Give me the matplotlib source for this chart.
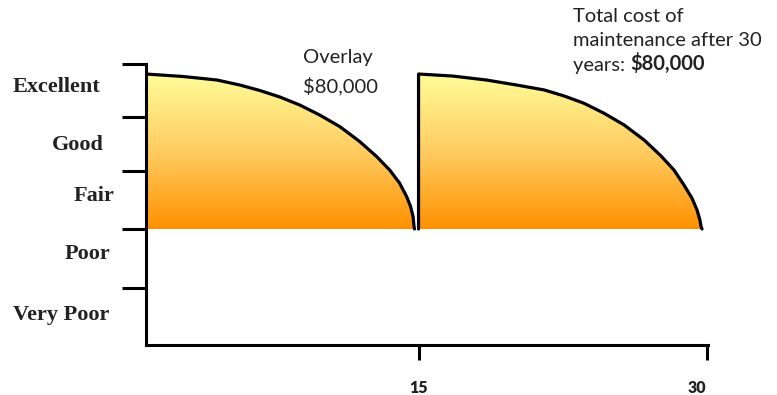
import numpy as np
import matplotlib
matplotlib.use("Agg")
import matplotlib.pyplot as plt
from matplotlib.colors import LinearSegmentedColormap
from matplotlib.transforms import ScaledTranslation

# condition levels (bottom -> top) and the tick boundaries between them
levels = ["Very Poor", "Poor", "Fair", "Good", "Excellent"]
level_centers = [0.53, 1.60, 2.61, 3.51, 4.53]
level_bounds = [1.0, 2.03, 3.05, 4.0, 4.93]

# first deterioration curve (years 0-15)
curve1_x = [0.83, 2.75, 4.52, 5.71, 6.75, 7.79, 8.82, 9.86, 10.90, 11.94,
            12.82, 13.50, 14.01, 14.38, 14.585, 14.715, 14.766, 14.79]
curve1_y = [4.754, 4.711, 4.649, 4.561, 4.465, 4.351, 4.211, 4.035, 3.833,
            3.570, 3.307, 3.070, 2.842, 2.605, 2.430, 2.254, 2.079, 2.035]

# second curve after the overlay (years 15-30)
curve2_x = [15.0, 15.0, 16.76, 18.53, 20.24, 21.54, 22.58, 23.61, 24.65,
            25.69, 26.73, 27.61, 28.28, 28.80, 29.22, 29.48, 29.63, 29.69,
            29.74]
curve2_y = [2.035, 4.754, 4.719, 4.649, 4.553, 4.474, 4.368, 4.240, 4.065,
            3.860, 3.596, 3.316, 3.070, 2.807, 2.574, 2.368, 2.193, 2.075,
            2.035]

base = 2.035
year_ticks = [15, 30]

W, H = 777, 395
fig = plt.figure(figsize=(W / 100, H / 100), dpi=100)
ax = fig.add_axes([146 / W, 50 / H, 562 / W, 281 / H])
ax.set_xlim(0.83, 30.05)
ax.set_ylim(0, 4.93)

grad = LinearSegmentedColormap.from_list(
    "yo", [(1.0, 0.57, 0.0), (1.0, 0.80, 0.38), (1.0, 0.99, 0.60)])
g = np.linspace(0, 1, 256).reshape(-1, 1)

for xs, ys in [(curve1_x, curve1_y), (curve2_x, curve2_y)]:
    poly = ax.fill_between(xs, ys, base, color="none", lw=0)
    img = ax.imshow(g, cmap=grad, origin="lower", aspect="auto",
                    extent=[min(xs), max(xs), base, max(ys)], zorder=1)
    img.set_clip_path(poly.get_paths()[0], transform=ax.transData)
    ax.plot(xs, ys, color="black", lw=2.3, solid_capstyle="round",
            solid_joinstyle="round", zorder=3)

for s in ["top", "right"]:
    ax.spines[s].set_visible(False)
for s in ["left", "bottom"]:
    ax.spines[s].set_linewidth(2.2)
    ax.spines[s].set_zorder(4)

ax.set_yticks(level_bounds)
ax.set_yticklabels([])
ax.tick_params(axis="y", direction="out", length=17, width=2.2)

ax.set_xticks(year_ticks)
ax.set_xticklabels([str(t) for t in year_ticks], fontfamily="Lato",
                   fontweight="heavy", fontsize=11.5, color="#222222")
ax.tick_params(axis="x", direction="out", length=11, width=2.2, pad=14)
lab30 = ax.get_xticklabels()[1]
lab30.set_transform(lab30.get_transform() +
                    ScaledTranslation(-10 / 100, 0, fig.dpi_scale_trans))

label_x = [13, 65, 74, 52, 13]
for name, yc, px in zip(levels, level_centers, label_x):
    ax.text((px - 146) / 562, yc, name, transform=ax.get_yaxis_transform(),
            ha="left", va="center", fontfamily="Liberation Serif",
            fontweight="bold", fontsize=16, color="#222222", clip_on=False)

txt = dict(fontfamily="Lato", fontsize=14.5, color="#222222", va="center",
           parse_math=False)
fig.text(303 / W, 1 - 58 / H, "Overlay", **txt)
fig.text(303 / W, 1 - 86 / H, "$80,000", **txt)
fig.text(573 / W, 1 - 16 / H, "Total cost of", **txt)
fig.text(573 / W, 1 - 41 / H, "maintenance after 30", **txt)
yrs = fig.text(573 / W, 1 - 65 / H, "years: ", **txt)
ax.annotate("$80,000", xy=(1, 0), xycoords=yrs, ha="left", va="bottom",
            fontfamily="Lato", fontsize=14.5, fontweight="bold",
            color="#222222", annotation_clip=False)

fig.savefig("out.png", dpi=100)
